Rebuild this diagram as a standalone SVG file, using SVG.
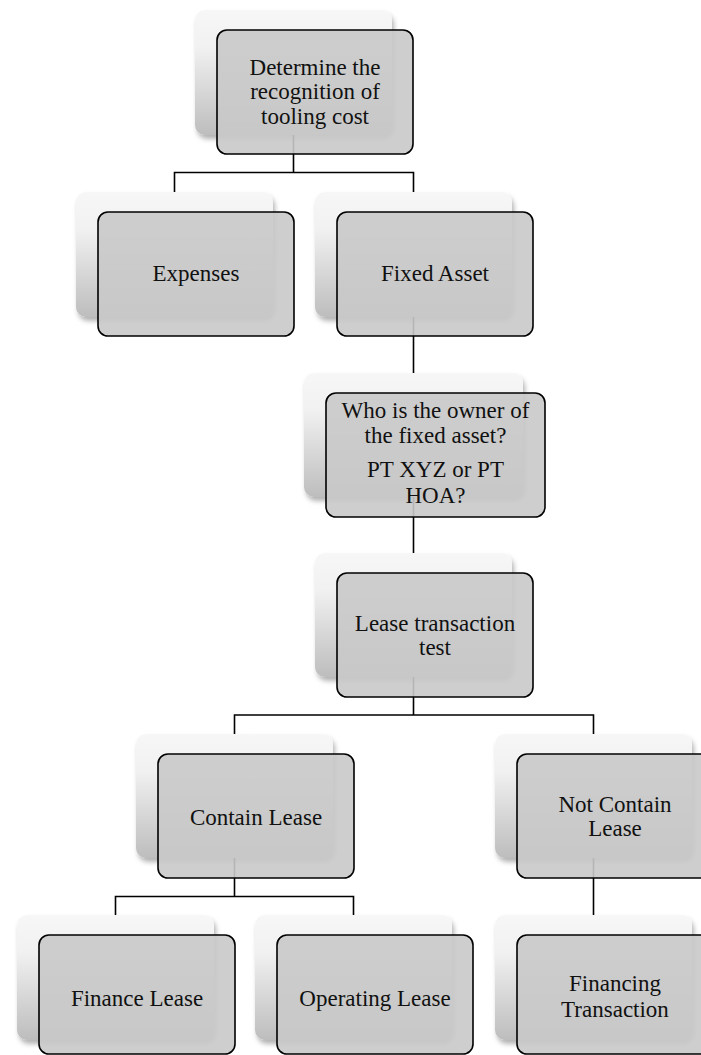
<svg xmlns="http://www.w3.org/2000/svg" width="701" height="1055" viewBox="0 0 701 1055">
<defs>
<linearGradient id="backGrad" x1="0" y1="0" x2="0" y2="1">
<stop offset="0" stop-color="#f7f7f7"/>
<stop offset="0.3" stop-color="#f1f1f1"/>
<stop offset="1" stop-color="#bdbdbd"/>
</linearGradient>
<filter id="shadow" x="-10%" y="-10%" width="125%" height="130%">
<feDropShadow dx="2" dy="4" stdDeviation="2.5" flood-color="#000" flood-opacity="0.3"/>
</filter>
</defs>
<style>
.back { fill: url(#backGrad); filter: url(#shadow); }
.front { fill: #c9c9c9; fill-opacity: 0.9; stroke: #000; stroke-width: 1.6; }
.conn { fill: none; stroke: #000; stroke-width: 1.6; }
.lbl { font-family: "Liberation Serif", "Times New Roman", serif; font-size: 23px; fill: #111; text-anchor: middle; }
</style>
<rect width="701" height="1055" fill="#fff"/>
<g id="connectors">
<path class="conn" d="M293.5,135 V172.5 M174.5,192 V172.5 H413.5 V192"/>
<path class="conn" d="M413.5,317 V373"/>
<path class="conn" d="M413.5,497 V553"/>
<path class="conn" d="M413.5,677 V715 M234.5,734 V715 H593.5 V734"/>
<path class="conn" d="M234.5,858 V896.5 M115.5,915 V896.5 H353.5 V915"/>
<path class="conn" d="M593.5,858 V915"/>
</g>
<g id="node-determine">
<rect class="back" x="195" y="10" width="197" height="125" rx="10"/>
<rect class="front" x="217" y="30" width="196" height="124" rx="10"/>
<text class="lbl" x="315" y="75">Determine the</text>
<text class="lbl" x="315" y="99">recognition of</text>
<text class="lbl" x="315" y="124">tooling cost</text>
</g>
<g id="node-expenses">
<rect class="back" x="76" y="192" width="197" height="125" rx="10"/>
<rect class="front" x="98" y="212" width="196" height="124" rx="10"/>
<text class="lbl" x="196" y="281">Expenses</text>
</g>
<g id="node-fixed-asset">
<rect class="back" x="315" y="192" width="197" height="125" rx="10"/>
<rect class="front" x="337" y="212" width="196" height="124" rx="10"/>
<text class="lbl" x="435" y="281">Fixed Asset</text>
</g>
<g id="node-owner">
<rect class="back" x="304" y="373" width="219" height="124" rx="10"/>
<rect class="front" x="326" y="393" width="219" height="124" rx="10"/>
<text class="lbl" x="435.5" y="418">Who is the owner of</text>
<text class="lbl" x="435.5" y="443">the fixed asset?</text>
<text class="lbl" x="435.5" y="477">PT XYZ or PT</text>
<text class="lbl" x="435.5" y="503">HOA?</text>
</g>
<g id="node-lease-test">
<rect class="back" x="315" y="553" width="197" height="124" rx="10"/>
<rect class="front" x="337" y="573" width="196" height="124" rx="10"/>
<text class="lbl" x="435" y="631">Lease transaction</text>
<text class="lbl" x="435" y="655">test</text>
</g>
<g id="node-contain">
<rect class="back" x="136" y="734" width="197" height="124" rx="10"/>
<rect class="front" x="158" y="754" width="196" height="124" rx="10"/>
<text class="lbl" x="256" y="825">Contain Lease</text>
</g>
<g id="node-not-contain">
<rect class="back" x="495" y="734" width="197" height="124" rx="10"/>
<rect class="front" x="517" y="754" width="196" height="124" rx="10"/>
<text class="lbl" x="615" y="812">Not Contain</text>
<text class="lbl" x="615" y="836">Lease</text>
</g>
<g id="node-finance">
<rect class="back" x="17" y="915" width="197" height="125" rx="10"/>
<rect class="front" x="39" y="935" width="196" height="119" rx="10"/>
<text class="lbl" x="137" y="1006">Finance Lease</text>
</g>
<g id="node-operating">
<rect class="back" x="255" y="915" width="197" height="125" rx="10"/>
<rect class="front" x="277" y="935" width="196" height="119" rx="10"/>
<text class="lbl" x="375" y="1006">Operating Lease</text>
</g>
<g id="node-financing">
<rect class="back" x="495" y="915" width="197" height="125" rx="10"/>
<rect class="front" x="517" y="935" width="196" height="119" rx="10"/>
<text class="lbl" x="615" y="991">Financing</text>
<text class="lbl" x="615" y="1017">Transaction</text>
</g>
</svg>
